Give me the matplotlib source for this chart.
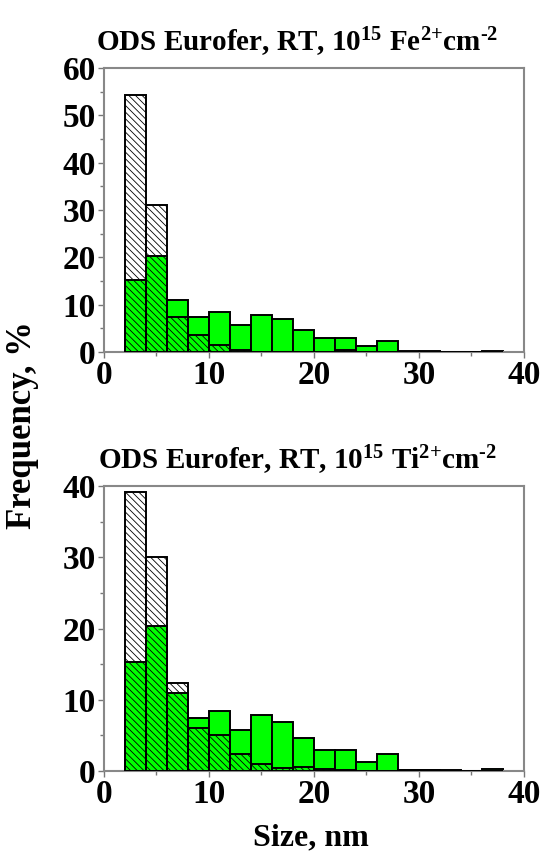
import numpy as np
import matplotlib.pyplot as plt
from matplotlib.ticker import MultipleLocator

plt.rcParams['font.family'] = ['Liberation Serif', 'DejaVu Serif']
plt.rcParams['font.weight'] = 'bold'
plt.rcParams['mathtext.default'] = 'regular'
plt.rcParams['hatch.linewidth'] = 0.6

# size bins, nm (left edges, width 2)
bin_left = np.arange(2, 38, 2)
bin_width = 2

# unirradiated reference distribution (green), %
ref_freq = [15.3, 20.3, 10.9, 7.5, 8.4, 5.8, 7.8, 6.9, 4.6, 3.0,
            3.0, 1.3, 2.4, 0.2, 0.2, 0.0, 0.0, 0.25]

# after irradiation (hatched), %
fe_freq = [54.4, 31.1, 7.5, 3.7, 1.4, 0.35, 0.1, 0.0, 0.0, 0.0,
           0.4, 0.0, 0.0, 0.0, 0.0, 0.0, 0.0, 0.0]
ti_freq = [39.2, 30.1, 12.4, 6.0, 5.0, 2.4, 1.0, 0.4, 0.5, 0.3,
           0.1, 0.0, 0.0, 0.1, 0.1, 0.1, 0.0, 0.0]

titles = ['ODS Eurofer, RT, 10$^{15}$ Fe$^{2{+}}$cm$^{\u2010 2}$',
          'ODS Eurofer, RT, 10$^{15}$ Ti$^{2{+}}$cm$^{\u2010 2}$']
ymax = [60, 40]

fig = plt.figure(figsize=(5.45, 8.63), dpi=100)
ax1 = fig.add_axes([0.1908, 0.5921, 0.7706, 0.3291])
ax2 = fig.add_axes([0.1908, 0.1066, 0.7706, 0.3302])

for ax, irr, title, ym in zip([ax1, ax2], [fe_freq, ti_freq], titles, ymax):
    ax.bar(bin_left, ref_freq, width=bin_width, align='edge',
           color='#00ff00', edgecolor='black', linewidth=1.4, zorder=2)
    ax.bar(bin_left, irr, width=bin_width, align='edge',
           facecolor='none', edgecolor='black', linewidth=1.4,
           hatch='\\\\\\\\\\', zorder=3)
    ax.set_xlim(0, 40)
    ax.set_ylim(0, ym)
    ax.xaxis.set_major_locator(MultipleLocator(10))
    ax.xaxis.set_minor_locator(MultipleLocator(5))
    ax.yaxis.set_major_locator(MultipleLocator(10))
    ax.yaxis.set_minor_locator(MultipleLocator(5))
    ax.tick_params(which='both', direction='out', color='#777777',
                   width=1, labelsize=24)
    ax.tick_params(which='major', length=4, pad=2)
    ax.tick_params(which='minor', length=3)
    for sp in ax.spines.values():
        sp.set_color('#888888')
        sp.set_linewidth(1.5)
    ax.set_title(title, fontsize=21, fontweight='bold', pad=12, x=0.46)

fig.text(0.042, 0.507, 'Frequency, %', rotation=90, fontsize=25,
         fontweight='bold', ha='center', va='center')
fig.text(0.57, 0.029, 'Size, nm', fontsize=23, fontweight='bold',
         ha='center', va='center')

plt.savefig('out.png', dpi=100)
